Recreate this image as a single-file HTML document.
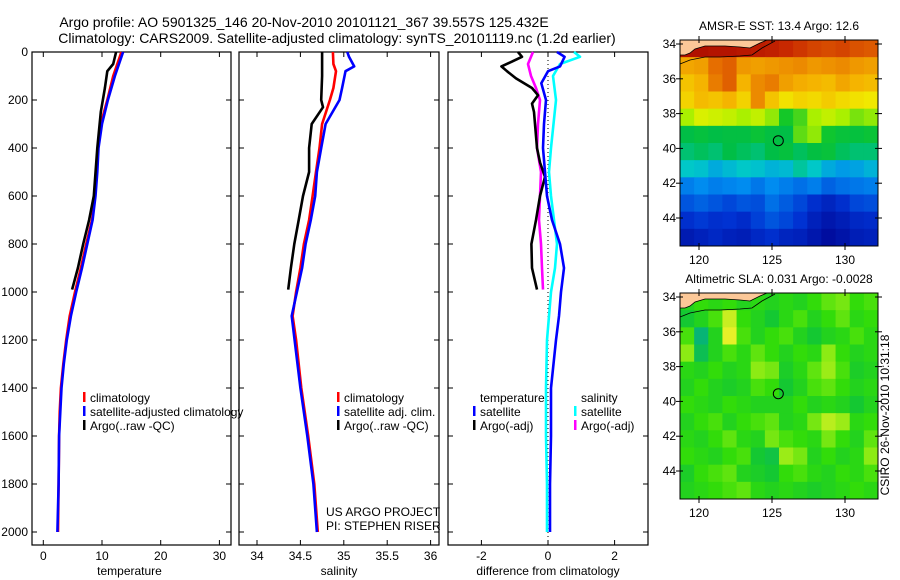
<!DOCTYPE html>
<html><head><meta charset="utf-8"><style>
body{margin:0;background:#fff}
svg{display:block;font-family:"Liberation Sans",sans-serif}
text{font-size:12px;fill:#000}
</style></head><body>
<svg id="c" width="900" height="580" viewBox="0 0 900 580">
<text x="304" y="27" text-anchor="middle" style="font-size:14px">Argo profile: AO 5901325_146 20-Nov-2010 20101121_367 39.557S 125.432E</text>
<text x="337" y="43" text-anchor="middle" style="font-size:14px">Climatology: CARS2009. Satellite-adjusted climatology: synTS_20101119.nc (1.2d earlier)</text>
<text x="889" y="415" text-anchor="middle" transform="rotate(-90 889 415)">CSIRO 26-Nov-2010 10:31:18</text>
</svg>
<script>
// ===== DATA =====
const depthTicks=[0,200,400,600,800,1000,1200,1400,1600,1800,2000];
const climDepth=[0,100,200,300,400,500,600,700,800,900,1000,1100,1200,1300,1400,1500,1600,1800,2000];
const tempClim=[13.3,11.9,10.9,9.8,9.3,9.1,8.8,8.3,7.3,6.4,5.4,4.5,3.9,3.4,3.0,2.8,2.7,2.6,2.5];
const tempSat=[13.6,12.2,11.0,10.0,9.4,9.2,8.9,8.4,7.5,6.6,5.6,4.7,4.0,3.5,3.1,2.9,2.7,2.6,2.4];
const argoDepth=[0,50,80,150,250,400,600,700,800,900,990];
const tempArgo=[12.4,11.9,10.9,10.5,9.8,9.2,8.6,7.8,6.8,5.9,4.9];
const salClim=[34.875,34.88,34.91,34.88,34.84,34.75,34.72,34.68,34.64,34.60,34.54,34.50,34.45,34.41,34.45,34.51,34.59,34.66,34.70];
const salClimDepth=[0,50,80,150,200,300,400,500,600,700,800,900,1000,1100,1200,1400,1600,1800,2000];
const salSatDepth=[0,20,60,80,150,200,300,400,500,600,700,800,900,1000,1100,1400,1600,1800,2000];
const salSat=[35.04,35.06,35.12,35.02,34.98,34.95,34.79,34.74,34.69,34.67,34.62,34.56,34.52,34.46,34.40,34.50,34.58,34.65,34.69];
const salArgoDepth=[0,100,200,230,300,400,500,600,700,800,900,990];
const salArgo=[34.75,34.75,34.74,34.76,34.63,34.60,34.60,34.53,34.48,34.43,34.39,34.36];
const dTsatDepth=[0,20,60,80,130,200,300,400,500,600,700,800,900,1000,1100,1200,1400,1600,1800,2000];
const dTsat=[0.27,0.5,0.36,0,-0.2,-0.06,-0.12,-0.15,-0.09,-0.03,0.12,0.36,0.48,0.39,0.33,0.24,0.09,0.09,0.06,0.06];
const dSsatDepth=[0,20,50,100,200,400,500,600,700,800,900,1000,1200,1400,1600,1800,2000];
const dSsat=[0.78,0.96,0.36,0.15,0.24,0.09,0.03,0.09,0.18,0.27,0.21,0.09,-0.03,-0.06,-0.06,-0.03,-0.03];
const dTargoDepth=[0,20,40,60,80,110,150,180,215,250,300,400,460,520,600,700,800,900,990];
const dTargo=[-0.9,-0.78,-1.08,-1.4,-1.23,-0.96,-0.48,-0.3,-0.48,-0.42,-0.39,-0.33,-0.24,-0.09,-0.24,-0.36,-0.5,-0.48,-0.33];
const dSargoDepth=[0,50,100,150,200,300,400,500,600,700,800,900,990];
const dSargo=[-0.45,-0.6,-0.51,-0.36,-0.24,-0.3,-0.33,-0.21,-0.24,-0.27,-0.21,-0.18,-0.15];
const tempTicks=[0,10,20,30];
const salTicks=[34,34.5,35,35.5,36];
const salTickLabels=["34","34.5","35","35.5","36"];
const diffTicks=[-2,0,2];
const latTicks=[34,36,38,40,42,44];
const lonTicks=[120,125,130];
const argoLon=125.432, argoLat=39.557;
const sstGrid=[
[17.6,17.6,17.5,17.5,17.4,17.3,17.2,17.0,16.8,16.6,16.5,16.6,16.4,16.3],
[15.2,15.3,16.0,16.2,15.4,15.3,15.4,15.5,15.6,15.4,15.5,15.6,15.4,15.3],
[14.8,15.0,15.8,16.2,15.0,15.6,15.8,15.3,15.1,15.0,14.9,15.2,15.0,14.9],
[14.6,14.9,14.8,15.0,14.6,15.6,14.8,14.4,14.6,14.5,14.7,14.5,14.4,14.3],
[13.6,14.0,13.9,13.8,13.6,13.8,13.5,13.0,13.2,13.6,13.8,13.6,13.4,13.5],
[12.2,12.4,12.2,12.3,12.3,12.6,12.3,12.2,13.3,13.5,12.8,12.5,12.4,12.6],
[12.0,12.1,12.0,12.2,12.1,12.0,12.2,12.4,12.1,12.3,12.5,12.1,12.0,12.0],
[11.6,11.5,11.2,11.4,11.6,11.5,11.3,11.4,11.8,11.6,11.2,11.0,11.1,11.3],
[10.6,10.8,10.6,10.7,10.8,10.5,10.8,10.6,10.4,10.6,10.2,10.4,10.5,10.6],
[10.0,10.2,10.0,9.8,10.0,9.9,10.4,10.1,9.8,9.4,9.1,9.4,9.8,9.9],
[9.4,9.6,9.4,9.5,9.3,9.7,10.0,9.8,9.5,9.0,8.7,8.9,9.2,9.3],
[8.8,9.0,9.2,9.0,8.9,9.2,9.4,9.1,9.0,8.7,8.4,8.6,8.9,9.0]];
const slaGrid=[
[0.00,0.02,0.01,0.02,0.00,0.01,0.00,0.01,0.00,0.02,0.04,0.05,0.02,0.03],
[-0.02,0.00,0.03,0.10,0.02,0.00,-0.02,0.01,0.03,0.00,0.02,0.04,0.01,0.02],
[0.03,-0.06,0.00,0.12,0.03,0.00,0.02,0.03,0.00,-0.02,0.00,0.01,0.03,0.01],
[0.06,-0.04,0.00,0.03,0.01,0.04,0.02,0.00,0.02,0.01,0.06,0.02,0.00,0.01],
[0.01,0.00,0.02,0.00,0.01,0.06,0.05,-0.01,0.01,0.04,0.07,0.03,-0.01,0.00],
[0.00,0.02,0.00,-0.01,0.00,0.03,0.02,-0.02,0.00,0.03,0.04,0.02,0.00,0.01],
[0.02,0.01,0.00,0.02,0.01,0.00,0.00,0.00,0.02,0.00,0.01,0.00,-0.02,0.00],
[0.00,0.02,0.03,0.00,0.02,0.03,0.04,0.00,0.01,0.05,0.09,0.07,0.01,0.02],
[0.01,0.00,0.02,0.04,0.01,0.00,0.05,0.03,0.02,0.01,0.05,0.02,0.00,0.04],
[0.02,0.01,0.00,0.02,0.03,-0.02,-0.03,0.07,0.05,0.00,0.02,0.00,0.01,0.06],
[-0.01,0.02,0.03,0.04,0.00,-0.01,-0.02,0.02,0.03,0.01,0.00,0.02,0.01,0.03],
[0.00,0.01,0.02,0.03,0.04,0.01,0.00,0.01,0.00,-0.01,0.00,0.01,0.02,0.01]];

// ===== RENDER =====
const NS="http://www.w3.org/2000/svg";
const svg=document.getElementById('c');
function mk(tag,attrs,parent){const e=document.createElementNS(NS,tag);for(const k in attrs)e.setAttribute(k,attrs[k]);(parent||svg).appendChild(e);return e;}
const Y0=52,YB=545,dScale=0.24;
const yD=d=>Y0+d*dScale;

const panels=[
 {x0:32,x1:231,fx:v=>43.3+v*5.87,ticks:tempTicks,labels:tempTicks.map(String),name:'temperature-panel',xlabel:'temperature'},
 {x0:239,x1:439,fx:v=>257+(v-34)*86.8,ticks:salTicks,labels:salTickLabels,name:'salinity-panel',xlabel:'salinity'},
 {x0:448,x1:648,fx:v=>548+v*33.3,ticks:diffTicks,labels:diffTicks.map(String),name:'difference-panel',xlabel:'difference from climatology'}
];
panels.forEach((p,i)=>{
  const g=mk('g',{});
  
  
  mk('rect',{x:p.x0,y:Y0,width:p.x1-p.x0,height:YB-Y0,fill:'none',stroke:'#000','stroke-width':1.2},g);
  depthTicks.forEach(d=>{
    const y=yD(d);
    mk('line',{x1:p.x0,x2:p.x0+5,y1:y,y2:y,stroke:'#000'},g);
    mk('line',{x1:p.x1,x2:p.x1-5,y1:y,y2:y,stroke:'#000'},g);
    if(i===0){const t=mk('text',{x:28,y:y+4,'text-anchor':'end'},g);t.textContent=d;
      
      }
  });
  p.ticks.forEach((v,k)=>{
    const x=p.fx(v);
    mk('line',{x1:x,x2:x,y1:YB,y2:YB-5,stroke:'#000'},g);
    mk('line',{x1:x,x2:x,y1:Y0,y2:Y0+5,stroke:'#000'},g);
    const t=mk('text',{x:x,y:YB+15,'text-anchor':'middle'},g);t.textContent=p.labels[k];
    
    
  });
  const xl=mk('text',{x:(i==2?548:(p.x0+p.x1)/2+(i==0?-2:0)),y:575,'text-anchor':'middle'},g);xl.textContent=p.xlabel;
  
  
});
function line(depths,vals,fx,color,name){
  const pts=depths.map((d,i)=>fx(vals[i]).toFixed(1)+','+yD(d).toFixed(1)).join(' ');
  const e=mk('polyline',{points:pts,fill:'none',stroke:color,'stroke-width':2.6,'stroke-linejoin':'round'});
  
  
}
const P=panels;
line(climDepth,tempClim,P[0].fx,'#f00','temp-climatology-line');
line(climDepth,tempSat,P[0].fx,'#00f','temp-satellite-line');
line(argoDepth,tempArgo,P[0].fx,'#000','temp-argo-line');
line(salClimDepth,salClim,P[1].fx,'#f00','sal-climatology-line');
line(salSatDepth,salSat,P[1].fx,'#00f','sal-satellite-line');
line(salArgoDepth,salArgo,P[1].fx,'#000','sal-argo-line');
const zl=mk('line',{x1:P[2].fx(0),x2:P[2].fx(0),y1:Y0,y2:YB,stroke:'#000','stroke-dasharray':'1,3'});


line(dSargoDepth,dSargo,P[2].fx,'#f0f','diff-sal-argo-line');
line(dTargoDepth,dTargo,P[2].fx,'#000','diff-temp-argo-line');
line(dSsatDepth,dSsat,P[2].fx,'#0ff','diff-sal-satellite-line');
line(dTsatDepth,dTsat,P[2].fx,'#00f','diff-temp-satellite-line');

function legend(x,y,items,name){
  const g=mk('g',{});
  
  
  items.forEach((it,k)=>{
    const yy=y+k*14;
    if(it[1])mk('rect',{x:x,y:yy-10,width:2.5,height:10,fill:it[1]},g);
    const t=mk('text',{x:x+7,y:yy},g);t.textContent=it[0];
  });
}
legend(83,402,[['climatology','#f00'],['satellite-adjusted climatology','#00f'],['Argo(..raw -QC)','#000']],'temperature-legend');
const cover=mk('rect',{x:232,y:380,width:6,height:30,fill:'#fff'});


mk('line',{x1:239,x2:239,y1:380,y2:410,stroke:'#000','stroke-width':1.2});
legend(337,402,[['climatology','#f00'],['satellite adj. clim.','#00f'],['Argo(..raw -QC)','#000']],'salinity-legend');
legend(473,402,[['temperature',null],['satellite','#00f'],['Argo(-adj)','#000']],'diff-temperature-legend');
legend(574,402,[['salinity',null],['satellite','#0ff'],['Argo(-adj)','#f0f']],'diff-salinity-legend');
const u1=mk('text',{x:326,y:516});u1.textContent='US ARGO PROJECT';


const u2=mk('text',{x:326,y:530});u2.textContent='PI: STEPHEN RISER';



// maps
function sstColor(v){
  const t=Math.max(0,Math.min(1,(v-8)/10));
  const st=[[0,[0,0,140]],[0.15,[0,50,210]],[0.28,[0,140,240]],[0.36,[0,200,200]],[0.42,[0,190,70]],[0.5,[20,200,40]],[0.56,[170,240,0]],[0.62,[240,240,0]],[0.7,[245,180,0]],[0.8,[230,110,0]],[0.9,[200,40,0]],[1,[160,0,0]]];
  for(let i=1;i<st.length;i++){if(t<=st[i][0]){const a=st[i-1],b=st[i],f=(t-a[0])/(b[0]-a[0]);return 'rgb('+a[1].map((c,j)=>Math.round(c+(b[1][j]-c)*f)).join(',')+')';}}
  return 'rgb(160,0,0)';
}
function slaColor(v){
  const t=Math.max(0,Math.min(1,(v+0.08)/0.2));
  const st=[[0,[0,170,150]],[0.3,[20,200,50]],[0.5,[50,220,10]],[0.7,[140,235,20]],[1,[230,240,40]]];
  for(let i=1;i<st.length;i++){if(t<=st[i][0]){const a=st[i-1],b=st[i],f=(t-a[0])/(b[0]-a[0]);return 'rgb('+a[1].map((c,j)=>Math.round(c+(b[1][j]-c)*f)).join(',')+')';}}
  return 'rgb(230,240,40)';
}
function map(top,grid,cfn,title,name){
  const x0=680,x1=878,y1=top+206;
  const fx=lon=>699+(lon-120)*14.6, fy=lat=>top+4+(lat-34)*17.4;
  const g=mk('g',{});
  
  
  const R=grid.length,C=grid[0].length,cw=(x1-x0)/C,ch=(y1-top)/R;
  grid.forEach((row,r)=>row.forEach((v,c)=>{
    const cell=mk('rect',{x:x0+c*cw,y:top+r*ch,width:cw+0.5,height:ch+0.5,fill:cfn(v)},g);
    
    
  }));
  const o=top-40;
  const land=mk('polygon',{points:[[680,40],[767,40],[760,43],[750,48],[740,47],[725,46],[705,46],[695,49],[690,53],[685,55],[680,55]].map(p=>p[0]+','+(p[1]+o)).join(' '),fill:'#fcc898',stroke:'#000','stroke-width':0.8},g);
  
  
  mk('polyline',{points:[[680,64],[690,60],[705,57],[720,57],[740,56],[752,55],[762,48],[775,41]].map(p=>p[0]+','+(p[1]+o)).join(' '),fill:'none',stroke:'#000','stroke-width':0.8},g);
  mk('rect',{x:x0,y:top,width:x1-x0,height:y1-top,fill:'none',stroke:'#000','stroke-width':1},g);
  latTicks.forEach(l=>{const y=fy(l);mk('line',{x1:x0-4,x2:x0+3,y1:y,y2:y,stroke:'#000'},g);mk('line',{x1:x1-3,x2:x1+4,y1:y,y2:y,stroke:'#000'},g);
    const t=mk('text',{x:x0-4,y:y+4,'text-anchor':'end'},g);t.textContent=l;});
  lonTicks.forEach(l=>{const x=fx(l);mk('line',{x1:x,x2:x,y1:y1-3,y2:y1+4,stroke:'#000'},g);mk('line',{x1:x,x2:x,y1:top-4,y2:top+3,stroke:'#000'},g);
    const t=mk('text',{x:x,y:y1+18,'text-anchor':'middle'},g);t.textContent=l;});
  const c=mk('circle',{cx:fx(argoLon),cy:fy(argoLat),r:5,fill:'none',stroke:'#000','stroke-width':1},g);
  
  
  const tt=mk('text',{x:779,y:top-10,'text-anchor':'middle'},g);tt.textContent=title;
  
  
}
map(40,sstGrid,sstColor,'AMSR-E SST: 13.4  Argo: 12.6','sst-map');
map(293,slaGrid,slaColor,'Altimetric SLA: 0.031  Argo: -0.0028','sla-map');
</script>
</body></html>
